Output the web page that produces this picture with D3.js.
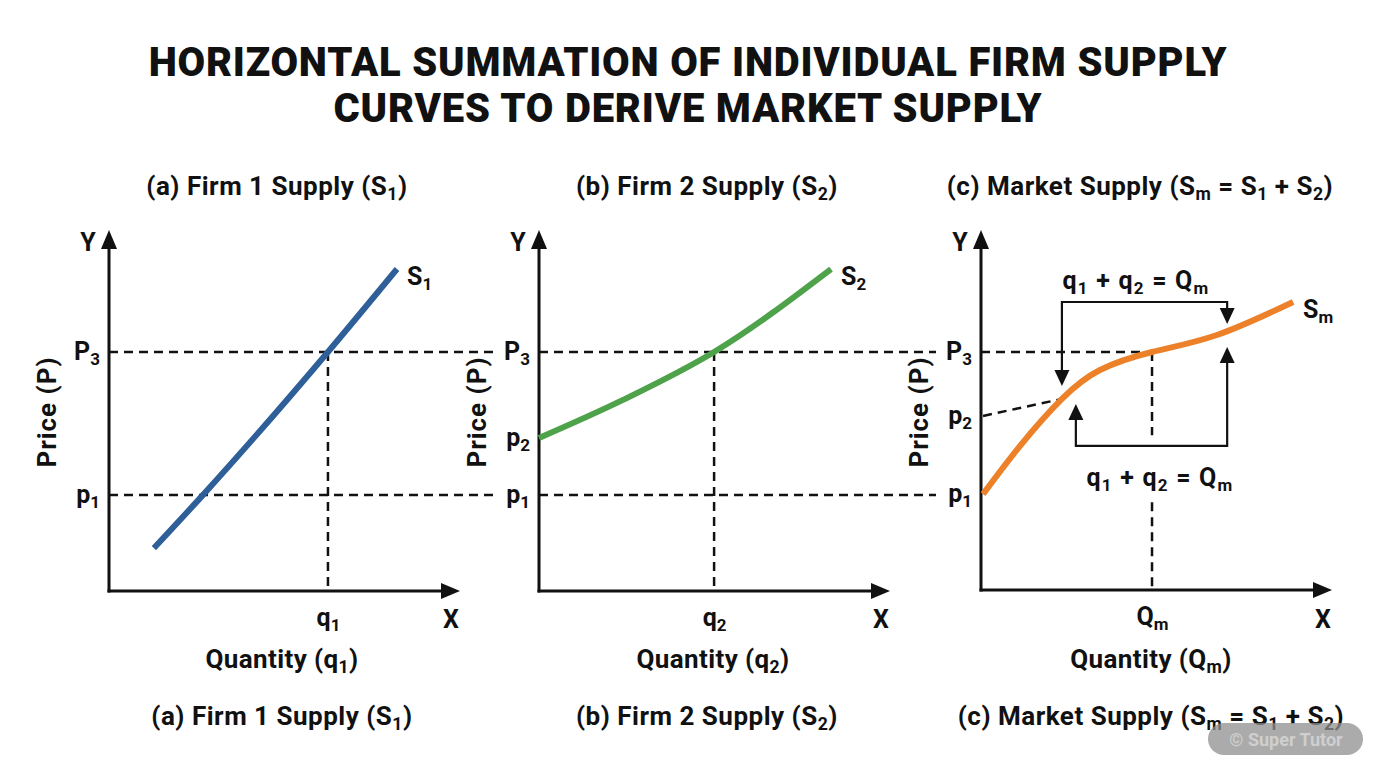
<!DOCTYPE html>
<html><head><meta charset="utf-8">
<script src="https://cdn.jsdelivr.net/npm/d3@7"></script>
<style>
html,body{margin:0;padding:0;background:#fff;}
svg{display:block;font-family:Roboto,"Noto Sans",sans-serif;}
</style></head>
<body><svg id="c" width="1376" height="768"></svg>
<script>
// ---------- DATA (quantity, price in model units 0..10) ----------
const titleLines = ["HORIZONTAL SUMMATION OF INDIVIDUAL FIRM SUPPLY", "CURVES TO DERIVE MARKET SUPPLY"];
const panelTitles = ["(a) Firm 1 Supply (S_{1})", "(b) Firm 2 Supply (S_{2})", "(c) Market Supply (S_{m} = S_{1} + S_{2})"];
const xAxisTitles = ["Quantity (q_{1})", "Quantity (q_{2})", "Quantity (Q_{m})"];
const curveLabels = ["S_{1}", "S_{2}", "S_{m}"];
const qTickLabels = ["q_{1}", "q_{2}", "Q_{m}"];
const qTickValues = [6.44, 5.15, 5.03];
const priceLevelLabels = [["P_{3}", "p_{1}"], ["P_{3}", "p_{2}", "p_{1}"], ["P_{3}", "p_{2}", "p_{1}"]];
const priceLevelValues = [[7.03, 2.82], [7.03, 4.5, 2.82], [7.0, 5.12, 2.82]];
const s1Q = [1.32, 2.76, 6.44, 8.47];
const s1P = [1.26, 2.82, 7.03, 9.47];
const s2Q = [0.0, 2.47, 5.15, 8.59];
const s2P = [4.5, 5.62, 7.03, 9.47];
const smQ = [0.06, 1.15, 2.38, 3.5, 5.03, 6.94, 9.18];
const smP = [2.82, 4.24, 5.62, 6.47, 7.0, 7.5, 8.47];
const p2ExtQ = [0.06, 2.38];
const p2ExtP = [5.12, 5.62];
// bracket annotations in panel (c): [qLeft, qRight, pBar, pLeftTip, pRightTip]
const bracketTop = [2.38, 7.24, 8.47, 6.0, 7.82];
const bracketBottom = [2.79, 7.24, 4.24, 5.47, 7.15];
const bracketLabel = "q_{1} + q_{2} = Q_{m}";
const watermark = "© Super Tutor";

const colors = ["#2f5f99", "#4ea24a", "#ec812a"];

// ---------- helpers ----------
const svg = d3.select("#c");
function rich(sel, str, subScale = 0.68) {
  sel.text(null);
  const parts = str.split(/(_\{[^}]*\})/).filter(s => s.length);
  let prevSub = false;
  parts.forEach(p => {
    const isSub = p.startsWith("_{");
    const t = sel.append("tspan").text(isSub ? p.slice(2, -1) : p);
    if (isSub) { t.attr("font-size", (subScale * 100) + "%").attr("dy", "0.28em"); prevSub = true; }
    else if (prevSub) { t.attr("dy", "-0.19em"); prevSub = false; }
  });
  return sel;
}
function txt(x, y, str, size, anchor = "middle", weight = 700, fill = "#111", ls = 0) {
  const t = svg.append("text").attr("x", x).attr("y", y).attr("font-size", size)
    .attr("font-weight", weight).attr("text-anchor", anchor).attr("fill", fill).attr("letter-spacing", ls);
  return rich(t, str);
}

// ---------- Title ----------
titleLines.forEach((l, i) => txt(688, 76 + i * 46, l, 40, "middle", 900, "#111", 0.8));

// ---------- Panels ----------
const panels = [
  { ox: 109, oy: 591, xTip: 460, titleX: 277, capX: 282, qTitleX: 282, curve: [s1Q, s1P], curveType: d3.curveMonotoneX, dashEnd: 493, labelAt: [8.47, 9.47] },
  { ox: 539, oy: 591, xTip: 890, titleX: 707, capX: 707, qTitleX: 713, curve: [s2Q, s2P], curveType: d3.curveMonotoneX, dashEnd: 936, labelAt: [8.59, 9.47] },
  { ox: 981, oy: 590, xTip: 1332, titleX: 1140, capX: 1151, qTitleX: 1151, curve: [smQ, smP], curveType: d3.curveNatural, dashEnd: null, labelAt: [9.18, 8.47] }
];
const unit = 34;

panels.forEach((pn, i) => {
  const x = d3.scaleLinear().domain([0, 10]).range([pn.ox, pn.ox + 10 * unit]);
  const y = d3.scaleLinear().domain([0, 10]).range([pn.oy, pn.oy - 10 * unit]);
  const g = svg.append("g");

  // dashed guides
  const dash = "9,6";
  const levels = priceLevelValues[i];
  const labs = priceLevelLabels[i];
  levels.forEach((v, k) => {
    const lab = labs[k];
    if (i === 2) {
      if (lab === "P_{3}") g.append("line").attr("x1", x(0)).attr("x2", x(qTickValues[i])).attr("y1", y(v)).attr("y2", y(v))
        .attr("stroke", "#111").attr("stroke-width", 2.5).attr("stroke-dasharray", dash);
    } else if (lab !== "p_{2}") {
      g.append("line").attr("x1", x(0)).attr("x2", pn.dashEnd).attr("y1", y(v)).attr("y2", y(v))
        .attr("stroke", "#111").attr("stroke-width", 2.5).attr("stroke-dasharray", dash);
    }
  });
  // vertical dashed at q tick
  const qv = qTickValues[i];
  if (i < 2) {
    g.append("line").attr("x1", x(qv)).attr("x2", x(qv)).attr("y1", y(levels[0])).attr("y2", y(0))
      .attr("stroke", "#111").attr("stroke-width", 2.5).attr("stroke-dasharray", dash);
  } else {
    g.append("line").attr("x1", x(qv)).attr("x2", x(qv)).attr("y1", y(levels[0])).attr("y2", y(4.55))
      .attr("stroke", "#111").attr("stroke-width", 2.5).attr("stroke-dasharray", dash);
    g.append("line").attr("x1", x(qv)).attr("x2", x(qv)).attr("y1", y(2.58)).attr("y2", y(0))
      .attr("stroke", "#111").attr("stroke-width", 2.5).attr("stroke-dasharray", dash);
    g.append("line").attr("x1", x(p2ExtQ[0])).attr("x2", x(p2ExtQ[1])).attr("y1", y(p2ExtP[0])).attr("y2", y(p2ExtP[1]))
      .attr("stroke", "#111").attr("stroke-width", 2.5).attr("stroke-dasharray", dash);
  }

  // axes lines + arrows
  const yTip = 230;
  g.append("line").attr("x1", x(0)).attr("x2", x(0)).attr("y1", y(0) + 1.5).attr("y2", yTip + 14).attr("stroke", "#111").attr("stroke-width", 3);
  g.append("line").attr("x1", x(0) - 1.5).attr("x2", pn.xTip - 14).attr("y1", y(0)).attr("y2", y(0)).attr("stroke", "#111").attr("stroke-width", 3);
  g.append("path").attr("d", `M${x(0)},${yTip} L${x(0) - 8},${yTip + 19} L${x(0) + 8},${yTip + 19} Z`).attr("fill", "#111");
  g.append("path").attr("d", `M${pn.xTip},${y(0)} L${pn.xTip - 19},${y(0) - 8} L${pn.xTip - 19},${y(0) + 8} Z`).attr("fill", "#111");

  // price tick labels via d3 axis
  const ya = g.append("g").attr("transform", `translate(${x(0)},0)`)
    .call(d3.axisLeft(y).tickValues(levels).tickSize(0).tickPadding(9));
  ya.select(".domain").remove();
  ya.selectAll(".tick text").each(function (d, k) {
    const t = d3.select(this).attr("font-size", 25).attr("font-weight", 700).attr("fill", "#111")
      .attr("font-family", "Roboto, sans-serif").attr("dy", "0.3em");
    rich(t, labs[k]);
  });
  // quantity tick label via d3 axis
  const xa = g.append("g").attr("transform", `translate(0,${y(0)})`)
    .call(d3.axisBottom(x).tickValues([qv]).tickSize(0).tickPadding(17));
  xa.select(".domain").remove();
  xa.selectAll(".tick text").each(function () {
    const t = d3.select(this).attr("font-size", 25).attr("font-weight", 700).attr("fill", "#111")
      .attr("font-family", "Roboto, sans-serif");
    rich(t, qTickLabels[i]);
  });

  // supply curve
  const pts = pn.curve[0].map((q, k) => [q, pn.curve[1][k]]);
  g.append("path").datum(pts)
    .attr("d", d3.line().x(d => x(d[0])).y(d => y(d[1])).curve(pn.curveType))
    .attr("fill", "none").attr("stroke", colors[i]).attr("stroke-width", 6);

  // curve label
  txt(x(pn.labelAt[0]) + 10, y(pn.labelAt[1]) + 16, curveLabels[i], 25, "start");

  // axis letters
  txt(x(0) - 21, 251, "Y", 25);
  txt(pn.xTip - 9, 628, "X", 25);
  // axis titles
  txt(pn.qTitleX, 668, xAxisTitles[i], 26, "middle", 700, "#111", 0.4);
  svg.append("text").attr("transform", `translate(${x(0) - 53},${412}) rotate(-90)`)
    .attr("font-size", 26).attr("font-weight", 700).attr("text-anchor", "middle").attr("fill", "#111")
    .attr("letter-spacing", 1).text("Price (P)");

  // panel titles and captions
  txt(pn.titleX, 195, panelTitles[i], 26, "middle", 700, "#111", 0.5);
  txt(pn.capX, 725, panelTitles[i], 26, "middle", 700, "#111", 0.5);

  // brackets in market panel
  if (i === 2) {
    const ah = (cx, tipY, dir) => { // dir 1 = pointing down, -1 = up
      const base = tipY - dir * 16;
      return `M${cx},${tipY} L${cx - 7.5},${base} L${cx + 7.5},${base} Z`;
    };
    const drawBracket = (b, dir) => {
      const [ql, qr, pb, pl, prr] = b;
      const barY = y(pb);
      const lt = y(pl), rt = y(prr);
      g.append("path").attr("d", `M${x(ql)},${lt - dir * 14} L${x(ql)},${barY} L${x(qr)},${barY} L${x(qr)},${rt - dir * 14}`)
        .attr("fill", "none").attr("stroke", "#111").attr("stroke-width", 2.2);
      g.append("path").attr("d", ah(x(ql), lt, dir)).attr("fill", "#111");
      g.append("path").attr("d", ah(x(qr), rt, dir)).attr("fill", "#111");
    };
    drawBracket(bracketTop, 1);
    drawBracket(bracketBottom, -1);
    txt(1136, 289, bracketLabel, 25, "middle", 700, "#111", 1.2);
    txt(1160, 486, bracketLabel, 25, "middle", 700, "#111", 1.2);
  }
});

// watermark
svg.append("rect").attr("x", 1208).attr("y", 723).attr("width", 155).attr("height", 32).attr("rx", 16)
  .attr("fill", "#8f8f8f").attr("opacity", 0.75);
svg.append("text").attr("x", 1286).attr("y", 746).attr("text-anchor", "middle").attr("font-size", 18)
  .attr("font-weight", 700).attr("fill", "#cfcfcf").text(watermark);
</script></body></html>
